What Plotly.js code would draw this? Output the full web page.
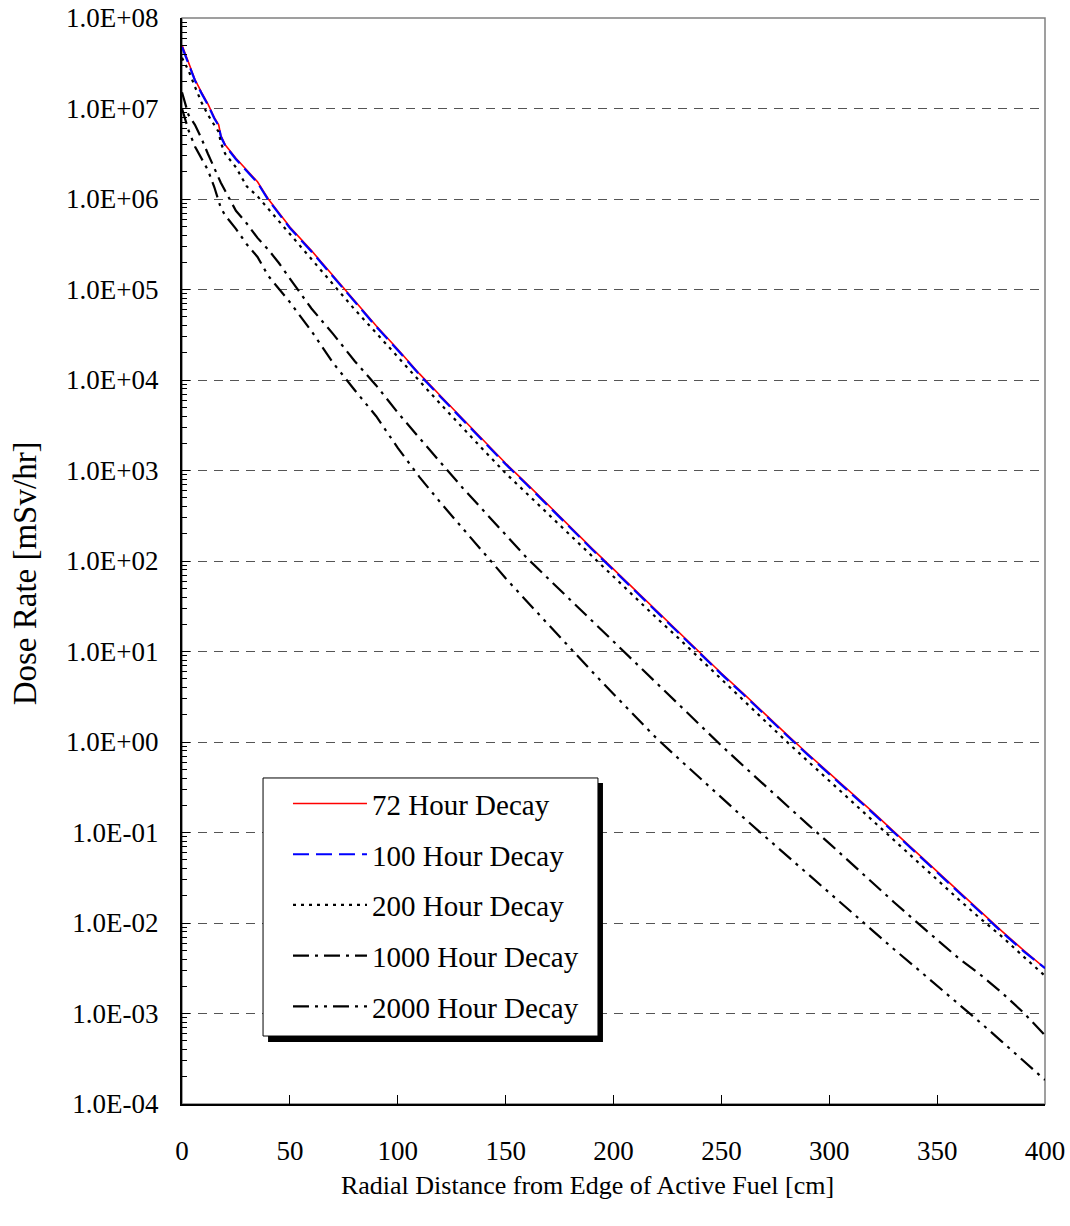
<!DOCTYPE html>
<html>
<head>
<meta charset="utf-8">
<script src="https://cdn.plot.ly/plotly-3.0.1.min.js"></script>
<style>
  html, body { margin: 0; padding: 0; background: #fff; }
  #chart { width: 1070px; height: 1226px; }
</style>
</head>
<body>
<div id="chart"></div>
<script>
// Radial distance from edge of active fuel [cm]
const distanceCm = [0, 3, 6, 9, 12, 15, 17, 18, 20, 25, 30, 35, 40, 45, 50,
  60, 70, 80, 90, 100, 110, 120, 130, 140, 150, 160, 170, 180, 190, 200,
  210, 220, 230, 240, 250, 260, 270, 280, 290, 300, 310, 320, 330, 340, 350,
  360, 370, 380, 390, 400];

// Dose rate readings, stored as log10(mSv/hr)
const log10Dose72h = [7.70, 7.50, 7.32, 7.18, 7.05, 6.90, 6.82, 6.70, 6.60, 6.45, 6.32, 6.19, 6.00, 5.85, 5.69,
  5.43, 5.15, 4.87, 4.60, 4.34, 4.07, 3.82, 3.57, 3.33, 3.08, 2.85, 2.61, 2.38, 2.14, 1.91,
  1.68, 1.45, 1.21, 0.98, 0.76, 0.54, 0.31, 0.09, -0.13, -0.34, -0.56, -0.77, -0.99, -1.21, -1.43,
  -1.66, -1.88, -2.09, -2.30, -2.50];
const log10Dose100h = [7.68, 7.49, 7.31, 7.17, 7.04, 6.89, 6.81, 6.69, 6.59, 6.44, 6.31, 6.18, 5.99, 5.84, 5.68,
  5.42, 5.14, 4.86, 4.59, 4.33, 4.06, 3.81, 3.56, 3.32, 3.07, 2.84, 2.60, 2.37, 2.13, 1.90,
  1.67, 1.44, 1.20, 0.97, 0.75, 0.53, 0.30, 0.08, -0.14, -0.35, -0.57, -0.78, -1.00, -1.22, -1.44,
  -1.67, -1.89, -2.10, -2.31, -2.50];
const log10Dose200h = [7.56, 7.42, 7.24, 7.07, 6.93, 6.81, 6.74, 6.62, 6.50, 6.35, 6.14, 6.03, 5.89, 5.75, 5.61,
  5.33, 5.05, 4.78, 4.52, 4.25, 3.99, 3.73, 3.47, 3.22, 2.97, 2.74, 2.51, 2.28, 2.06, 1.83,
  1.60, 1.37, 1.15, 0.92, 0.69, 0.46, 0.24, 0.01, -0.21, -0.43, -0.65, -0.87, -1.09, -1.30, -1.52,
  -1.74, -1.95, -2.15, -2.37, -2.585];
const log10Dose1000h = [7.18, 6.93, 6.82, 6.67, 6.50, 6.33, 6.23, 6.18, 6.09, 5.87, 5.73, 5.57, 5.44, 5.29, 5.12,
  4.79, 4.51, 4.21, 3.94, 3.64, 3.36, 3.08, 2.81, 2.55, 2.29, 2.03, 1.80, 1.57, 1.34, 1.10,
  0.87, 0.64, 0.41, 0.18, -0.04, -0.26, -0.48, -0.69, -0.91, -1.12, -1.34, -1.55, -1.77, -1.98, -2.19,
  -2.39, -2.57, -2.77, -2.99, -3.24];
const log10Dose2000h = [7.00, 6.76, 6.58, 6.45, 6.32, 6.13, 5.99, 5.90, 5.82, 5.67, 5.50, 5.36, 5.15, 5.00, 4.86,
  4.54, 4.19, 3.89, 3.60, 3.25, 2.93, 2.64, 2.36, 2.08, 1.81, 1.55, 1.29, 1.03, 0.78, 0.53,
  0.29, 0.04, -0.18, -0.40, -0.61, -0.83, -1.04, -1.25, -1.46, -1.67, -1.88, -2.08, -2.29, -2.49, -2.69,
  -2.90, -3.10, -3.31, -3.52, -3.735];

const seriesNames = ['72 Hour Decay', '100 Hour Decay', '200 Hour Decay', '1000 Hour Decay', '2000 Hour Decay'];

const yTickVals = [1e-4, 1e-3, 1e-2, 1e-1, 1e0, 1e1, 1e2, 1e3, 1e4, 1e5, 1e6, 1e7, 1e8];
const yTickText = ['1.0E-04', '1.0E-03', '1.0E-02', '1.0E-01', '1.0E+00', '1.0E+01', '1.0E+02',
  '1.0E+03', '1.0E+04', '1.0E+05', '1.0E+06', '1.0E+07', '1.0E+08'];

const FONT = '"Liberation Serif", "Times New Roman", Times, serif';
const toLinear = arr => arr.map(v => Math.pow(10, v));

const styles = [
  { color: '#FF0000', width: 1.6, dash: 'solid' },
  { color: '#0000FF', width: 2.2, dash: '16px,7px' },
  { color: '#000000', width: 2.2, dash: '3px,5px' },
  { color: '#000000', width: 2.2, dash: '16px,6px,3px,6px' },
  { color: '#000000', width: 2.2, dash: '16px,6px,3px,6px,3px,6px' }
];
const seriesValues = [log10Dose72h, log10Dose100h, log10Dose200h, log10Dose1000h, log10Dose2000h];

const traces = seriesValues.map((vals, i) => ({
  type: 'scatter',
  mode: 'lines',
  name: seriesNames[i],
  legendgroup: 'g' + i,
  x: distanceCm,
  y: toLinear(vals),
  line: styles[i]
}));

const layout = {
  width: 1070,
  height: 1226,
  margin: { l: 182, r: 25, t: 18, b: 122, pad: 0 },
  paper_bgcolor: '#ffffff',
  plot_bgcolor: '#ffffff',
  font: { family: FONT, color: '#000000', size: 27 },
  showlegend: true,
  xaxis: {
    range: [0, 400],
    tick0: 0,
    dtick: 50,
    ticks: 'inside',
    ticklen: 9,
    tickwidth: 1,
    tickcolor: '#000000',
    showline: true,
    linecolor: '#000000',
    linewidth: 1.5,
    showgrid: false,
    zeroline: false,
    ticklabelstandoff: 22,
    tickfont: { family: FONT, size: 27, color: '#000000' },
    title: { text: 'Radial Distance from Edge of Active Fuel [cm]' + '&#160;'.repeat(8),
             font: { family: FONT, size: 26, color: '#000000' }, standoff: 11 }
  },
  yaxis: {
    type: 'log',
    range: [-4, 8],
    tickvals: yTickVals,
    ticktext: yTickText,
    ticks: 'inside',
    ticklen: 8,
    tickwidth: 1,
    tickcolor: '#000000',
    showline: true,
    linecolor: '#000000',
    linewidth: 2,
    showgrid: true,
    gridcolor: '#555555',
    gridwidth: 1,
    griddash: '9px,7px',
    zeroline: false,
    ticklabelstandoff: 16,
    tickfont: { family: FONT, size: 27, color: '#000000' },
    minor: { ticks: 'inside', ticklen: 5, tickcolor: '#000000', tickwidth: 1, dtick: 'D1', showgrid: false },
    title: { text: 'Dose Rate [mSv/hr]' + '&#160;'.repeat(3),
             font: { family: FONT, size: 33, color: '#000000' }, standoff: 20 }
  },
  legend: {
    x: 0.1228,
    y: 0.300,
    xanchor: 'left',
    yanchor: 'top',
    bgcolor: 'rgba(0,0,0,0)',
    borderwidth: 0,
    font: { family: FONT, size: 29, color: '#000000' },
    itemwidth: 74,
    tracegroupgap: 10,
    traceorder: 'grouped'
  },
  shapes: [
    { type: 'rect', xref: 'paper', yref: 'paper', x0: 0, x1: 1, y0: 0, y1: 1,
      line: { color: '#808080', width: 1.5 }, fillcolor: 'rgba(0,0,0,0)', layer: 'below' },
    // legend drop shadow
    { type: 'rect', xref: 'paper', yref: 'paper', x0: 0.0997, x1: 0.4878, y0: 0.0571, y1: 0.2956,
      line: { width: 0 }, fillcolor: '#000000', layer: 'above' },
    // legend box
    { type: 'rect', xref: 'paper', yref: 'paper', x0: 0.0939, x1: 0.4820, y0: 0.0626, y1: 0.3002,
      line: { color: '#000000', width: 1 }, fillcolor: '#ffffff', layer: 'above' }
  ]
};

Plotly.newPlot('chart', traces, layout, { displayModeBar: false, staticPlot: true });
</script>
</body>
</html>
